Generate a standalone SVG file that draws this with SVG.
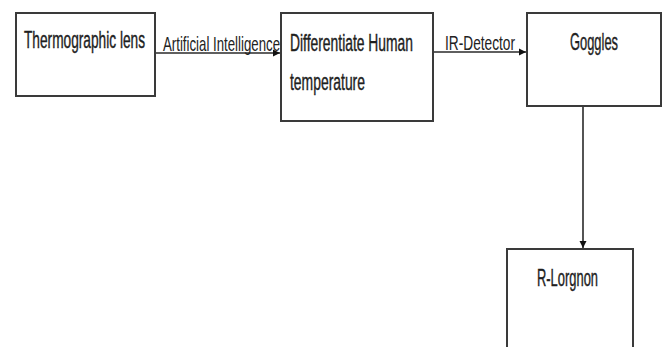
<svg xmlns="http://www.w3.org/2000/svg" width="668" height="347" viewBox="0 0 668 347">
<defs>
<style>
.box{fill:#fff;stroke:#3a3a3a;stroke-width:2}
.t{font-family:"Liberation Sans",Arial,sans-serif;font-size:13.7px;fill:#1e1e1e;stroke:#1e1e1e;stroke-width:0.25}
.lbl{font-family:"Liberation Sans",Arial,sans-serif;font-size:13.2px;fill:#222}
.ln{stroke:#2a2a2a;stroke-width:1.6;fill:none}
</style>
<marker id="ahv" viewBox="0 0 10 10" refX="10" refY="5" markerWidth="7" markerHeight="12" orient="auto" markerUnits="userSpaceOnUse">
<path d="M0,0 L10,5 L0,10 z" fill="#111"/>
</marker>
</defs>
<rect width="668" height="347" fill="#fff"/>
<g id="connectors">
<line class="ln" x1="155" y1="53" x2="280" y2="53" marker-end="url(#ahv)"/>
<line class="ln" x1="433" y1="52" x2="526" y2="52" marker-end="url(#ahv)"/>
<line class="ln" x1="583" y1="106" x2="583" y2="248" marker-end="url(#ahv)"/>
<text class="lbl" transform="translate(163,51) scale(1,1.55)" x="0" y="0" textLength="117" lengthAdjust="spacingAndGlyphs">Artificial Intelligence</text>
<text class="lbl" transform="translate(445,50) scale(1,1.55)" x="0" y="0" textLength="70" lengthAdjust="spacingAndGlyphs">IR-Detector</text>
</g>
<g id="thermographic-lens">
<rect class="box" x="16" y="13" width="139" height="83"/>
<text class="t" transform="translate(24,48) scale(1,1.75)" x="0" y="0" textLength="121" lengthAdjust="spacingAndGlyphs">Thermographic lens</text>
</g>
<g id="differentiate">
<rect class="box" x="281" y="13" width="152" height="108"/>
<text class="t" transform="translate(290,51) scale(1,1.75)" x="0" y="0" textLength="123" lengthAdjust="spacingAndGlyphs">Differentiate Human</text>
<text class="t" transform="translate(290,90) scale(1,1.75)" x="0" y="0" textLength="75" lengthAdjust="spacingAndGlyphs">temperature</text>
</g>
<g id="goggles">
<rect class="box" x="527" y="13" width="134" height="93"/>
<text class="t" transform="translate(570,50) scale(1,1.75)" x="0" y="0" textLength="48" lengthAdjust="spacingAndGlyphs">Goggles</text>
</g>
<g id="r-lorgnon">
<rect class="box" x="507" y="249" width="126" height="120"/>
<text class="t" transform="translate(537,286) scale(1,1.75)" x="0" y="0" textLength="61" lengthAdjust="spacingAndGlyphs">R-Lorgnon</text>
</g>
</svg>
